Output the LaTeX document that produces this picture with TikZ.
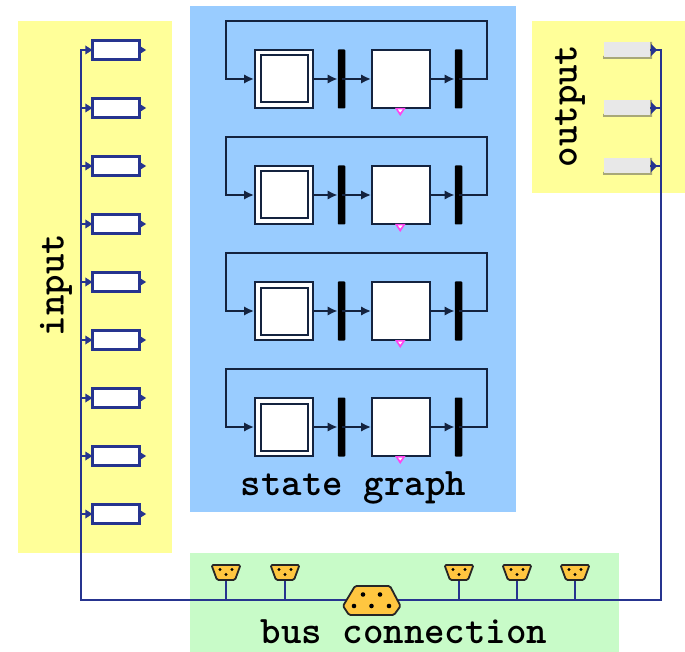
\documentclass[tikz,border=0pt]{standalone}
\usetikzlibrary{arrows.meta,calc}
\definecolor{yel}{HTML}{FFFF99}
\definecolor{blu}{HTML}{99CCFF}
\definecolor{grn}{HTML}{C8FBC8}
\definecolor{navy}{HTML}{26348F}
\definecolor{dk}{HTML}{14233F}
\definecolor{gold}{HTML}{FFC640}
\definecolor{pinkm}{HTML}{FF44EE}
\definecolor{shad}{HTML}{A8A878}
\tikzset{
 lab/.style={font=\fontsize{39}{39}\selectfont\ttfamily\bfseries,text=black,inner sep=0},
 inbox/.style={draw=navy,line width=2.2pt,fill=white,minimum width=47pt,minimum height=19pt,inner sep=0},
 outbox/.style={fill=black!9,minimum width=46pt,minimum height=15pt,inner sep=0},
 busl/.style={draw=navy,line width=2.6pt},
 link/.style={draw=dk,line width=2.3pt},
 arr/.style={-{Latex[length=10pt,width=9.5pt]}},
 pin/.style={fill=navy,draw=none},
 sq/.style={draw=dk,line width=2pt,fill=white,minimum width=58pt,minimum height=58pt,inner sep=0},
 inner/.style={draw=dk,line width=2pt,fill=white,minimum width=47pt,minimum height=47pt,inner sep=0},
 barn/.style={fill=black,minimum width=7.5pt,minimum height=59pt,inner sep=0,rounded corners=0.8pt},
 conn/.style={fill=gold,draw=black!85,line width=1.8pt,line join=round,rounded corners=1.5pt},
}
\begin{document}
\begin{tikzpicture}[x=1pt,y=-1pt]
\useasboundingbox (0,0) rectangle (685,652);
\fill[white] (0,0) rectangle (685,652);
\fill[yel] (18,21) rectangle (172,553);
\fill[yel] (532,21) rectangle (685,193);
\fill[blu] (190,6) rectangle (516,512);
\fill[grn] (190,553) rectangle (619,652);
% state rows
\foreach \r/\y in {1/78,2/194,3/310,4/426}{
  \node[sq] (a\r) at (284,\y+1) {};
  \node[inner] (ai\r) at (284.5,\y+1) {};
  \node[barn] (b\r) at (341.5,\y+1) {};
  \node[sq] (c\r) at (401,\y+1) {};
  \node[barn] (d\r) at (458.5,\y+1) {};
  \coordinate (tr\r) at (487,\y-57);
  \coordinate (tl\r) at (226,\y-57);
  \draw[link,arr] (a\r.east) -- (b\r.west);
  \draw[link,arr] (b\r.center) -- (c\r.west);
  \draw[link,arr] (c\r.east) -- (d\r.west);
  \draw[link,arr] (d\r.center) -- (tr\r |- d\r.center) -- (tr\r) -- (tl\r) -- (tl\r |- a\r.west) -- (a\r.west);
  \fill[pinkm] (395,\y+30) -- (405.5,\y+30) -- (400.2,\y+38) -- cycle;
  \fill[white] (398,\y+31.5) -- (402.6,\y+31.5) -- (400.2,\y+34.5) -- cycle;
}
% bus
\coordinate (busL) at (81,600);
\coordinate (busR) at (661,600);
\foreach \i/\y in {1/50,2/108,3/166,4/224,5/282,6/340,7/398,8/456,9/514}{
  \node[inbox] (in\i) at (116,\y) {};
  \fill[pin] (in\i.east) ++(0,-3.5) -- ++(5.5,3.5) -- ++(-5.5,3.5) -- cycle;
}
\foreach \i/\y in {1/50,2/108,3/166}{
  \fill[shad] (603,\y+6) -- (650,\y+6) -- (650,\y-8) -- (652,\y-8) -- (652,\y+9) -- (603,\y+9) -- cycle;
  \node[outbox] (out\i) at (627,\y) {};
}
\draw[busl] (in1.west) -- (in1.west -| busL) -- (busL) -- (busR) -- (busR |- out1.east) -- (out1.east);
\foreach \i in {2,...,9}{ \draw[busl] (in\i.west) -- (in\i.west -| busL); }
\foreach \i in {2,3}{ \draw[busl] (out\i.east) -- (out\i.east -| busR); }
\foreach \i in {1,...,9}{ \fill[navy] (in\i.west) ++(1,0) -- ++(-7,-4.5) -- ++(0,9) -- cycle; }
\foreach \i in {1,2,3}{ \fill[navy] (out\i.east) ++(1,-6) -- ++(6,6) -- ++(-6,6) -- cycle; }
% small connectors
\foreach \i/\x in {1/226,2/285,3/459,4/517,5/575}{
  \coordinate (s\i) at (\x,580);
  \coordinate (t\i) at (\x,600);
  \draw[busl] (s\i) -- (t\i);
  \draw[conn] (\x-14.5,565) -- (\x+14.5,565) -- (\x+9,580) -- (\x-9,580) -- cycle;
  \fill[black] (\x-6,569.5) circle (1.7) (\x+6,569.5) circle (1.7) (\x,574.5) circle (1.7);
}
% big connector
\draw[conn] (355,586) -- (390,586) -- (400.5,606) -- (394,615) -- (349,615) -- (343,606) -- cycle;
\fill[black] (363,594.5) circle (2.3) (380,594.5) circle (2.3) (354,606) circle (2.3) (371.5,606) circle (2.3) (389,606) circle (2.3);
% labels
\node[lab,rotate=90] (tin) at (56,285) {input};
\node[lab,rotate=90] (tout) at (570,106) {output};
\node[lab] (tsg) at (353.5,488) {state graph};
\node[lab] (tbus) at (404,632) {bus connection};
\end{tikzpicture}
\end{document}
